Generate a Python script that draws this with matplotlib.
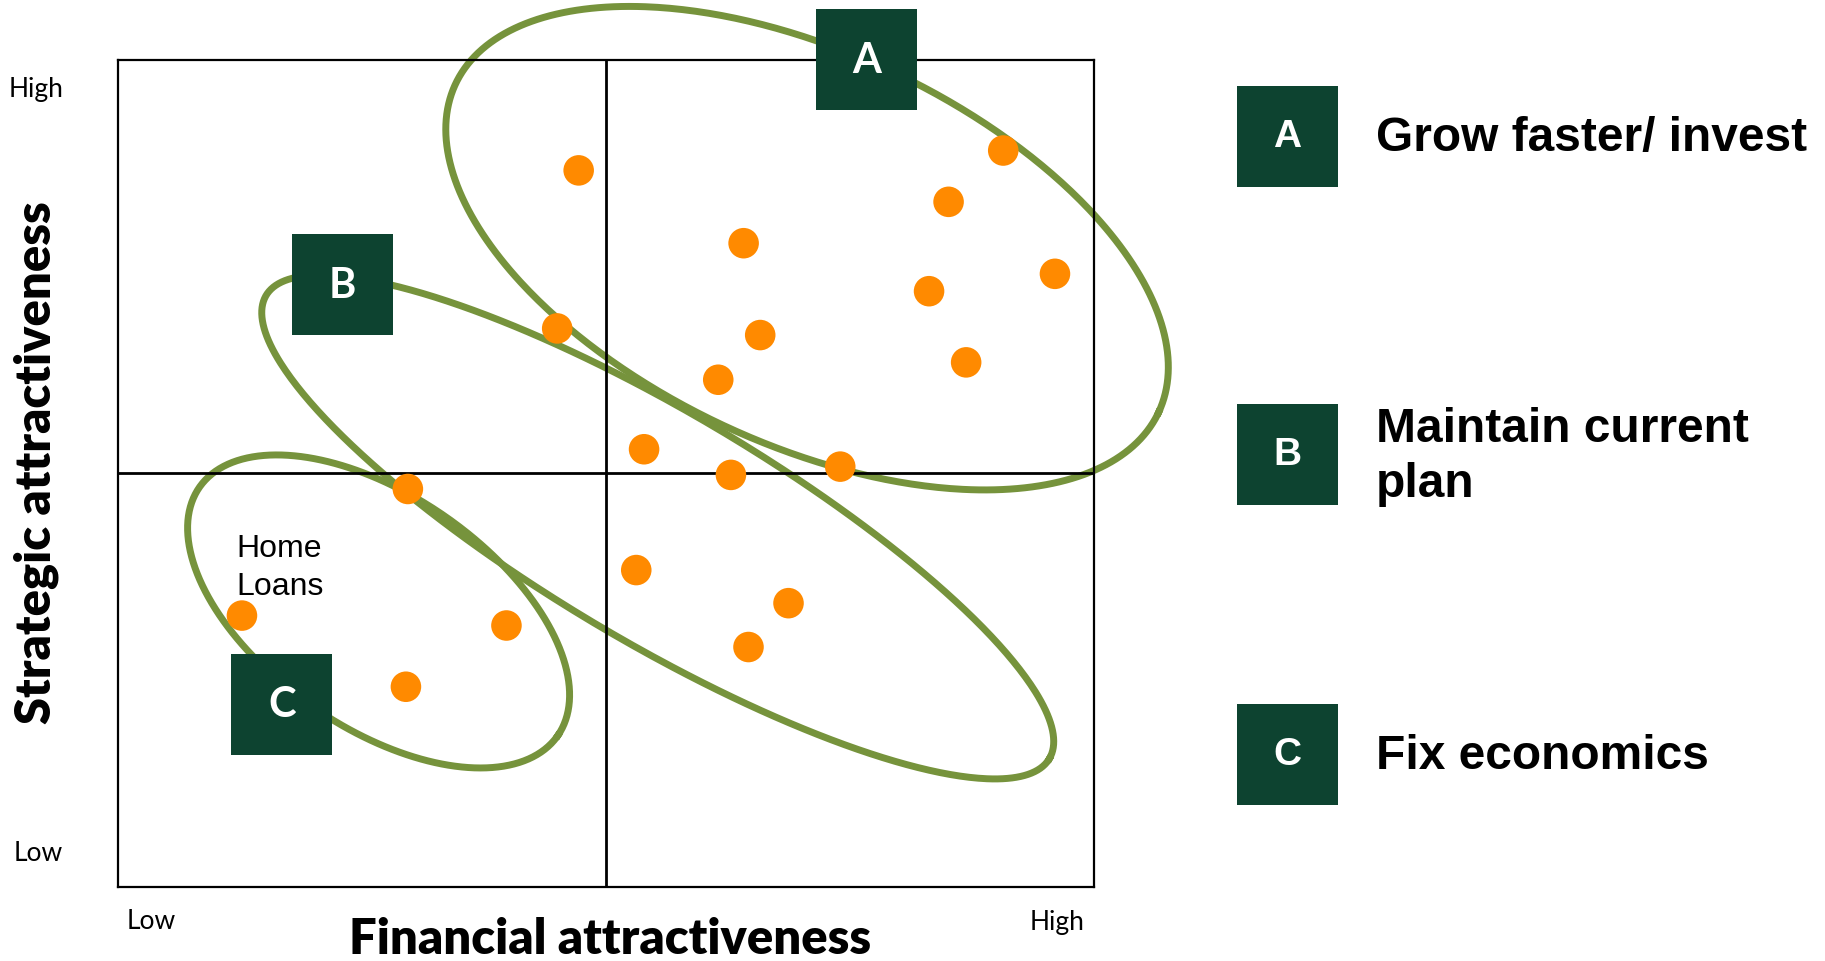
import numpy as np
import matplotlib
matplotlib.use('Agg')
import matplotlib.pyplot as plt
from matplotlib.patches import Rectangle

W_PX, H_PX = 1825, 962
C_BOX   = '#0D4330'
C_RING  = '#76933C'
C_DOT   = '#FF8A00'
F_CAL   = 'Lato'              # stand-in for Calibri
F_ARIAL = 'Liberation Sans'

# ── Data (0..10 on both axes) ─────────────────────────────────────────────────
fin_x = [4.72, 9.07, 8.51, 6.41, 9.60, 8.31, 4.50, 6.58, 8.69, 6.15,
         5.39, 6.28, 7.40, 2.97, 5.31, 6.87, 6.46, 1.27, 3.98, 2.95]
strat_y = [8.66, 8.90, 8.28, 7.78, 7.41, 7.20, 6.75, 6.67, 6.34, 6.13,
           5.29, 4.98, 5.08, 4.81, 3.83, 3.43, 2.90, 3.28, 3.16, 2.42]

group_ids    = ['A', 'B', 'C']
group_labels = ['Grow faster/ invest', 'Maintain current\nplan', 'Fix economics']
# ellipse centre (data), semi-axes (px), tilt (deg)
ring_cx  = [7.06, 5.53, 2.67]
ring_cy  = [7.72, 4.35, 3.33]
ring_a   = [388, 455, 218]
ring_b   = [196, 115, 116]
ring_ang = [-25.0, -30.6, -34.7]
# tag squares in the plot (data coords of centre)
tag_x = [7.67, 2.30, 1.68]
tag_y = [10.0, 7.28, 2.21]
# legend rows (figure px, centre y)
leg_y = [137, 455, 755]

# ── Figure ────────────────────────────────────────────────────────────────────
fig = plt.figure(figsize=(W_PX / 100, H_PX / 100), dpi=100)
fig.patch.set_facecolor('white')

ax_l, ax_r, ax_t, ax_b = 118, 1094, 60.5, 888
ax = fig.add_axes([ax_l / W_PX, 1 - ax_b / H_PX,
                   (ax_r - ax_l) / W_PX, (ax_b - ax_t) / H_PX])
ax.set_xlim(0, 10)
ax.set_ylim(0, 10)
ax.set_xticks([])
ax.set_yticks([])
for sp in ax.spines.values():
    sp.set_linewidth(1.6)
    sp.set_color('black')
    sp.set_zorder(5)

PX_X = (ax_r - ax_l) / 10
PX_Y = (ax_b - ax_t) / 10


def ring_xy(cx, cy, a, b, ang):
    t = np.linspace(0, 2 * np.pi, 500)
    th = np.deg2rad(ang)
    u, v = a * np.cos(t), b * np.sin(t)
    dx = u * np.cos(th) - v * np.sin(th)
    dy = u * np.sin(th) + v * np.cos(th)
    return cx + dx / PX_X, cy + dy / PX_Y


for cx, cy, a, b, ang in zip(ring_cx, ring_cy, ring_a, ring_b, ring_ang):
    xs, ys = ring_xy(cx, cy, a, b, ang)
    ax.plot(xs, ys, color=C_RING, lw=5.0, zorder=2, clip_on=False)

ax.axvline(5, color='black', lw=2.0, zorder=3)
ax.axhline(5, color='black', lw=2.0, zorder=3)

ax.scatter(fin_x, strat_y, s=22 ** 2, color=C_DOT, edgecolors='none', zorder=4)

# tag squares
sq = 101
for gid, tx, ty in zip(group_ids, tag_x, tag_y):
    w, h = sq / PX_X, sq / PX_Y
    ax.add_patch(Rectangle((tx - w / 2, ty - h / 2), w, h, facecolor=C_BOX,
                           edgecolor='none', zorder=6, clip_on=False))
    ax.text(tx, ty, gid, color='white', fontsize=30, fontweight='bold',
            family=F_CAL, ha='center', va='center', zorder=7, clip_on=False)

ax.text(1.21, 3.87, 'Home\nLoans', family=F_ARIAL, fontsize=23,
        ha='left', va='center', linespacing=1.35, zorder=7)


def ftext(x, y, s, **kw):
    fig.text(x / W_PX, 1 - y / H_PX, s, **kw)


# axis texts
ftext(36, 463, 'Strategic attractiveness', rotation=90, family=F_CAL,
      fontweight='heavy', fontsize=35.2, ha='center', va='center')
ftext(610, 940, 'Financial attractiveness', family=F_CAL,
      fontweight='heavy', fontsize=35.2, ha='center', va='center')
ftext(36, 90, 'High', family=F_CAL, fontsize=19, ha='center', va='center')
ftext(38, 854, 'Low', family=F_CAL, fontsize=19, ha='center', va='center')
ftext(151, 922, 'Low', family=F_CAL, fontsize=19, ha='center', va='center')
ftext(1057, 923, 'High', family=F_CAL, fontsize=19, ha='center', va='center')

# legend on the right
for gid, lab, ly in zip(group_ids, group_labels, leg_y):
    fig.add_artist(Rectangle((1237 / W_PX, 1 - (ly + 50.5) / H_PX),
                             sq / W_PX, sq / H_PX, facecolor=C_BOX,
                             edgecolor='none', transform=fig.transFigure))
    ftext(1287.5, ly, gid, color='white', family=F_ARIAL, fontweight='bold',
          fontsize=28, ha='center', va='center')
    ftext(1376, ly + 2, lab, family=F_ARIAL, fontweight='bold', fontsize=34.5,
          ha='left', va='center', linespacing=1.3)

fig.savefig('out.png', dpi=100, facecolor='white')
